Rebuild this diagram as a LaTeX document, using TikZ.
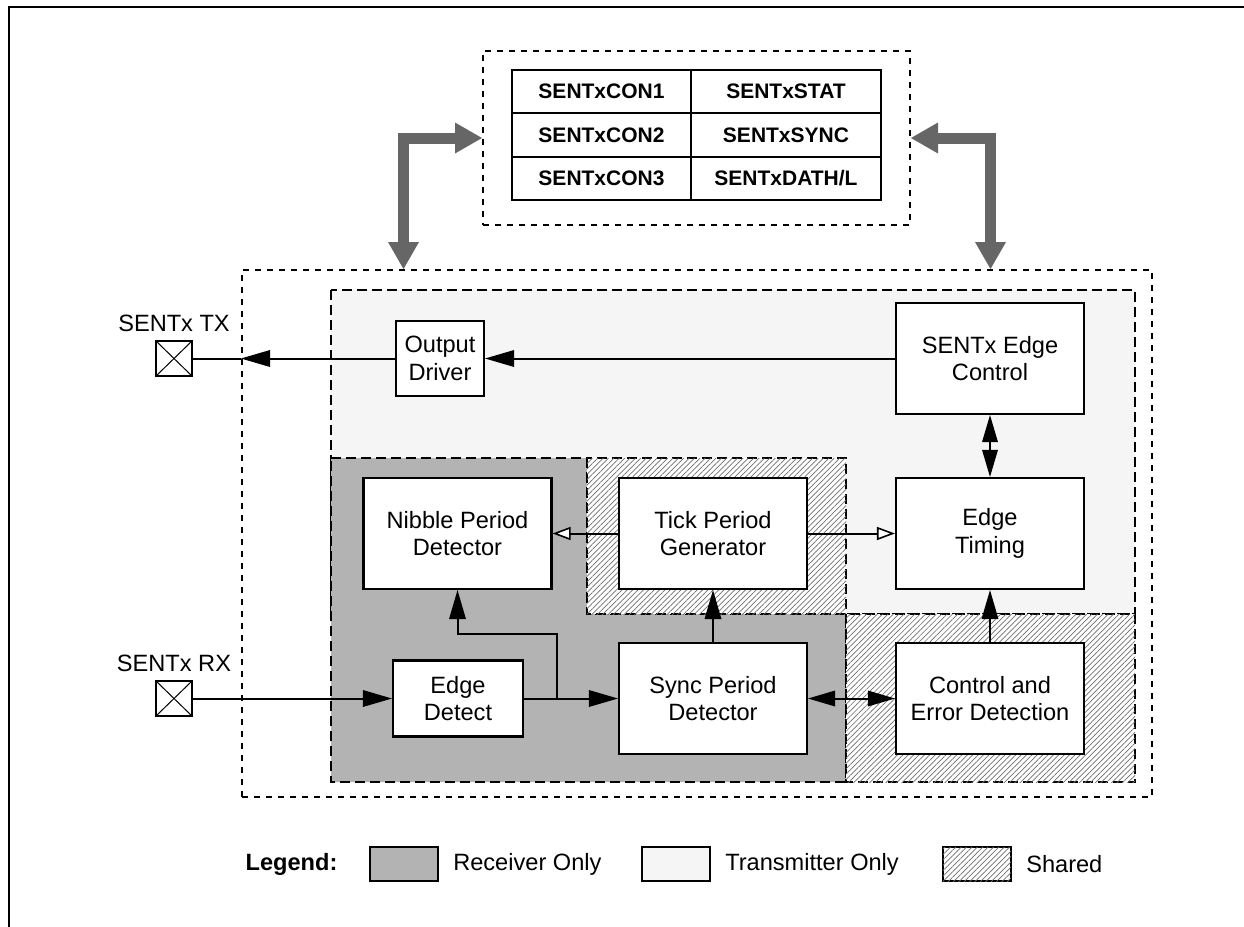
\documentclass[tikz,border=0pt]{standalone}
\usepackage{fontspec}
\setmainfont{Liberation Sans}
\usetikzlibrary{arrows.meta,patterns.meta,positioning}
\definecolor{busgray}{HTML}{666666}
\definecolor{rxgray}{HTML}{B3B3B3}
\definecolor{txgray}{HTML}{F5F5F5}
\definecolor{hatchgray}{HTML}{6E6E6E}

\begin{document}
\begin{tikzpicture}[x=0.5pt,y=-0.5pt,
    font=\fontsize{11.8}{13.8}\selectfont,
    blk/.style={draw, fill=white, line width=1.1pt, align=center,
        minimum width=94pt, minimum height=55.5pt, inner sep=2pt},
    cell/.style={draw, line width=1pt, minimum height=21.7pt, inner sep=0pt,
        font=\fontsize{10.5}{12}\selectfont\bfseries},
    frm/.style={draw, line width=1pt, dash pattern=on 3pt off 3pt},
    zone/.style={line width=1.4pt, dash pattern=on 5pt off 2.5pt},
    hatchfill/.style={fill=white, postaction={pattern={Lines[angle=45,distance=1.9pt,line width=0.35pt]},
        pattern color=hatchgray}},
    pad/.style={draw, line width=1pt, minimum width=18pt, minimum height=17.5pt, inner sep=0pt,
        path picture={\draw[line width=0.5pt]
            (path picture bounding box.north west) -- (path picture bounding box.south east)
            (path picture bounding box.north east) -- (path picture bounding box.south west);}},
    key/.style={draw, line width=1.2pt, minimum width=34pt, minimum height=17pt, inner sep=0pt},
    sig/.style={line width=1pt, -{Triangle[length=14.5pt,width=8.5pt,line width=0pt]}},
    dsig/.style={line width=1pt, {Triangle[length=13.5pt,width=8pt,line width=0pt]}-{Triangle[length=13.5pt,width=8pt,line width=0pt]}},
    osig/.style={line width=1pt, -{Triangle[fill=white,length=9pt,width=6.5pt,line width=0.8pt]}},
    bus/.style={draw=busgray, line width=5.5pt, line join=miter,
        {Triangle[length=13.5pt,width=15.5pt,line width=0pt]}-{Triangle[length=13.5pt,width=15.5pt,line width=0pt]}}]

    \useasboundingbox (0,0) rectangle (1244,927);

    % Marco exterior
    \draw[line width=1.4pt] (9,927) -- (9,7) -- (1244,7);

    % Registros
    \node[frm, minimum width=213.5pt, minimum height=87pt] (regs) at (696.5,138) {};
    \foreach \r/\a/\b in {1/SENTxCON1/SENTxSTAT, 2/SENTxCON2/SENTxSYNC, 3/SENTxCON3/{SENTxDATH/L}} {
        \node[cell, minimum width=89.5pt] (conl\r) at (601.5,{48.3+43.3*\r}) {\a};
        \node[cell, minimum width=95pt] (conr\r) at (786,{48.3+43.3*\r}) {\b};
    }

    % Modulo
    \node[frm, minimum width=455pt, minimum height=263.5pt] (core) at (697,533.5) {};

    % Zonas
    \draw[zone, fill=txgray] (331,290) rectangle (1135,614);
    \draw[zone, fill=rxgray] (331,458) -- (587,458) -- (587,614) -- (846,614)
        -- (846,782) -- (331,782) -- cycle;
    \draw[zone, hatchfill] (587,458) rectangle (846,614);
    \draw[zone, hatchfill] (846,614) rectangle (1135,782);

    % Bloques
    \node[blk, minimum width=44pt, minimum height=37.5pt] (drv) at (440,358.5) {Output\\Driver};
    \node[blk] (edgectl) at (990,358.5) {SENTx Edge\\Control};
    \node[blk] (timing) at (990,533.5) {Edge\\Timing};
    \node[blk] (ctlerr) at (990,698.5) {Control and\\Error Detection};
    \node[blk] (nibble) at (457.5,533.5) {Nibble Period\\Detector};
    \node[blk] (tick) at (713,533.5) {Tick Period\\Generator};
    \node[blk] (sync) at (713,698.5) {Sync Period\\Detector};
    \node[blk, minimum width=65pt, minimum height=38pt] (edgedet) at (458,698.5) {Edge\\Detect};

    % Pines
    \node[pad] (txpad) at (174,358.5) {};
    \node[pad] (rxpad) at (174,698.5) {};
    \node[above=0.5pt of txpad] (txlbl) {SENTx TX};
    \node[above=0.5pt of rxpad] (rxlbl) {SENTx RX};

    % Conexiones
    \coordinate (txport) at (core.west |- drv.west);
    \draw[sig] (edgectl.west) -- (drv.east);
    \draw[sig] (drv.west) -- (txport);
    \draw[line width=1pt] (txport) -- (txpad.east);
    \draw[sig] (rxpad.east) -- (edgedet.west);
    \draw[sig] (edgedet.east) -- (sync.west);
    \coordinate (split) at (557,698.5);
    \coordinate (bend) at (557,634);
    \draw[sig] (split) -- (bend) -| (nibble.south);
    \draw[sig] (sync.north) -- (tick.south);
    \draw[osig] (tick.west) -- (nibble.east);
    \draw[osig] (tick.east) -- (timing.west);
    \draw[dsig] (edgectl.south) -- (timing.north);
    \draw[sig] (ctlerr.north) -- (timing.south);
    \draw[dsig] (sync.east) -- (ctlerr.west);

    % Buses
    \coordinate (busL) at (403.5,138);
    \coordinate (busR) at (990.5,138);
    \draw[bus] (busL |- core.north) -- (busL) -- (regs.west);
    \draw[bus] (busR |- core.north) -- (busR) -- (regs.east);

    % Leyenda
    \node[font=\fontsize{11.8}{13.8}\selectfont\bfseries] (leg) at (291.5,864) {Legend:};
    \node[key, fill=rxgray] (keyrx) at (404,864) {};
    \node[right=3.5pt of keyrx] (txtrx) {Receiver Only};
    \node[key, fill=txgray] (keytx) at (676,864) {};
    \node[right=3.5pt of keytx] (txttx) {Transmitter Only};
    \node[key, hatchfill] (keysh) at (977,864) {};
    \node[right=3.5pt of keysh] (txtsh) {Shared};
\end{tikzpicture}
\end{document}
